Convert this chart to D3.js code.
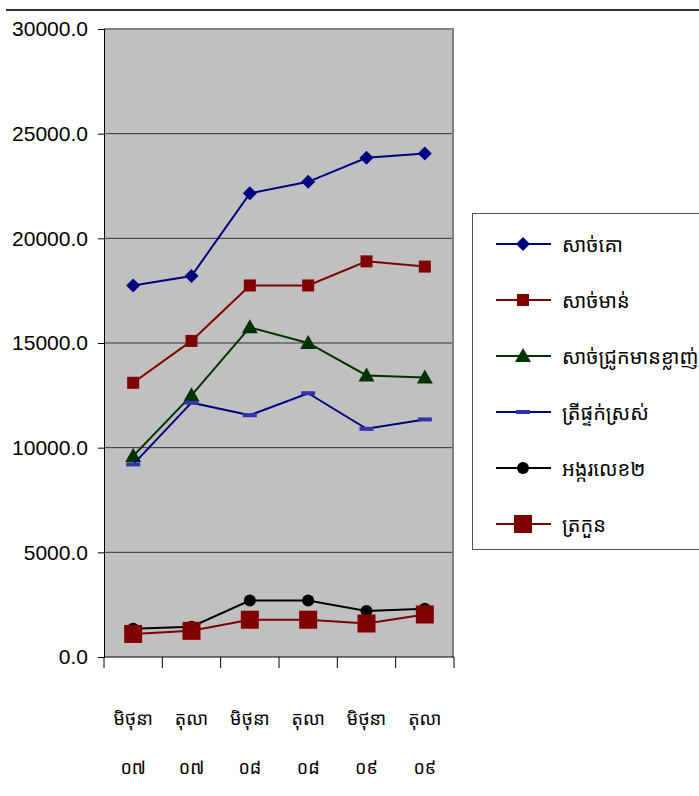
<!DOCTYPE html>
<html><head><meta charset="utf-8">
<script src="https://cdn.jsdelivr.net/npm/d3@7"></script>
<style>body{margin:0;background:#fff}svg{display:block}</style>
</head><body>
<script>
const months = ["មិថុនា","តុលា","មិថុនា","តុលា","មិថុនា","តុលា"];
const years = ["០៧","០៧","០៨","០៨","០៩","០៩"];
const yTicks = [0,5000,10000,15000,20000,25000,30000];
const seriesNames = ["សាច់គោ","សាច់មាន់","សាច់ជ្រូកមានខ្លាញ់","ត្រីផ្ទក់ស្រស់","អង្ករលេខ២","ត្រកួន"];
const beef = [17750,18200,22150,22700,23850,24050];
const chicken = [13100,15100,17750,17750,18900,18650];
const pork = [9600,12500,15750,15000,13450,13350];
const fish = [9200,12150,11550,12600,10900,11350];
const rice = [1350,1450,2700,2700,2200,2300];
const veg = [1100,1250,1780,1780,1600,2030];

const W=699,H=796;
const svg=d3.select("body").append("svg").attr("width",W).attr("height",H);
const khmer = "'Noto Sans Khmer','Khmer OS','Khmer OS System','Hanuman',sans-serif";

svg.append("line").attr("x1",6).attr("x2",W).attr("y1",10).attr("y2",10).attr("stroke","#333").attr("stroke-width",2);

const L=104,R=454,T=29,B=657;
const x=d3.scaleBand().domain(d3.range(6)).range([L,R]);
const y=d3.scaleLinear().domain([0,30000]).range([B,T]);

svg.append("rect").attr("x",L).attr("y",T).attr("width",R-L).attr("height",B-T).attr("fill","#c0c0c0");
svg.append("g").selectAll("line").data(yTicks.filter(d=>d>0&&d<30000)).join("line")
  .attr("x1",L).attr("x2",R).attr("y1",d=>y(d)).attr("y2",d=>y(d)).attr("stroke","#333").attr("stroke-width",1);
svg.append("path").attr("d",`M${L},${T}H${R-1}V${B}`).attr("fill","none").attr("stroke","#808080").attr("stroke-width",2);

const ya=svg.append("g").attr("transform",`translate(${L},0)`)
  .call(d3.axisLeft(y).tickValues(yTicks).tickFormat(d3.format(".1f")).tickSize(6).tickPadding(10));
ya.select(".domain").attr("stroke","#000");
ya.selectAll(".tick line").attr("stroke","#000");
ya.selectAll("text").attr("font-family","Arial, 'Liberation Sans', sans-serif").attr("font-size",21).attr("fill","#000");

const xa=svg.append("g").attr("transform",`translate(0,${B})`)
  .call(d3.axisBottom(x).tickValues([]).tickSizeOuter(0));
xa.select(".domain").attr("stroke","#000").attr("d",`M${L},0H${R}`);
xa.selectAll(".bt").data(d3.range(7)).join("line").attr("class","bt")
  .attr("x1",i=>L+i*x.step()).attr("x2",i=>L+i*x.step()).attr("y1",0).attr("y2",11).attr("stroke","#000");
const lab=svg.append("g");
lab.selectAll(".m").data(months).join("text").attr("class","m")
  .attr("x",(d,i)=>x(i)+x.bandwidth()/2).attr("y",725).attr("text-anchor","middle")
  .attr("font-family",khmer).attr("font-size",18).text(d=>d);
lab.selectAll(".yr").data(years).join("text").attr("class","yr")
  .attr("x",(d,i)=>x(i)+x.bandwidth()/2).attr("y",774).attr("text-anchor","middle")
  .attr("font-family",khmer).attr("font-size",18).text(d=>d);

const cx=i=>x(i)+x.bandwidth()/2;
const line=d3.line().x((d,i)=>cx(i)).y(d=>y(d));
const series=[
  {data:beef,color:"#000080",marker:"diamond",fill:"#000080"},
  {data:chicken,color:"#800000",marker:"square",fill:"#800000"},
  {data:pork,color:"#003300",marker:"triangle",fill:"#003300"},
  {data:fish,color:"#000080",marker:"dash",fill:"#3333aa"},
  {data:rice,color:"#000000",marker:"circle",fill:"#000000"},
  {data:veg,color:"#800000",marker:"bigsquare",fill:"#800000"}
];
function drawMarker(g,type,px,py,fill){
  if(type==="diamond") g.append("path").attr("d",`M${px},${py-7}L${px+7},${py}L${px},${py+7}L${px-7},${py}Z`).attr("fill",fill);
  else if(type==="square") g.append("rect").attr("x",px-6).attr("y",py-6).attr("width",12).attr("height",12).attr("fill",fill);
  else if(type==="triangle") g.append("path").attr("d",`M${px},${py-8}L${px+8},${py+6}L${px-8},${py+6}Z`).attr("fill",fill);
  else if(type==="dash") g.append("rect").attr("x",px-7).attr("y",py-2).attr("width",14).attr("height",4).attr("fill",fill);
  else if(type==="circle") g.append("circle").attr("cx",px).attr("cy",py).attr("r",6).attr("fill",fill);
  else if(type==="bigsquare") g.append("rect").attr("x",px-9).attr("y",py-9).attr("width",18).attr("height",18).attr("fill",fill);
}
series.forEach(s=>{
  const g=svg.append("g");
  g.append("path").datum(s.data).attr("d",line).attr("fill","none").attr("stroke",s.color).attr("stroke-width",2);
  s.data.forEach((v,i)=>drawMarker(g,s.marker,cx(i),y(v),s.fill));
});

const lg=svg.append("g");
lg.append("rect").attr("x",472.5).attr("y",213.5).attr("width",240).attr("height",336).attr("fill","#fff").attr("stroke","#555").attr("stroke-width",1);
seriesNames.forEach((n,i)=>{
  const ly=244+i*56;
  const s=series[i];
  lg.append("line").attr("x1",496).attr("x2",551).attr("y1",ly).attr("y2",ly).attr("stroke",s.color).attr("stroke-width",2);
  drawMarker(lg,s.marker,523,ly,s.fill);
  lg.append("text").attr("x",562).attr("y",ly+8).attr("font-family",khmer).attr("font-size",20).text(n);
});
</script>
</body></html>
